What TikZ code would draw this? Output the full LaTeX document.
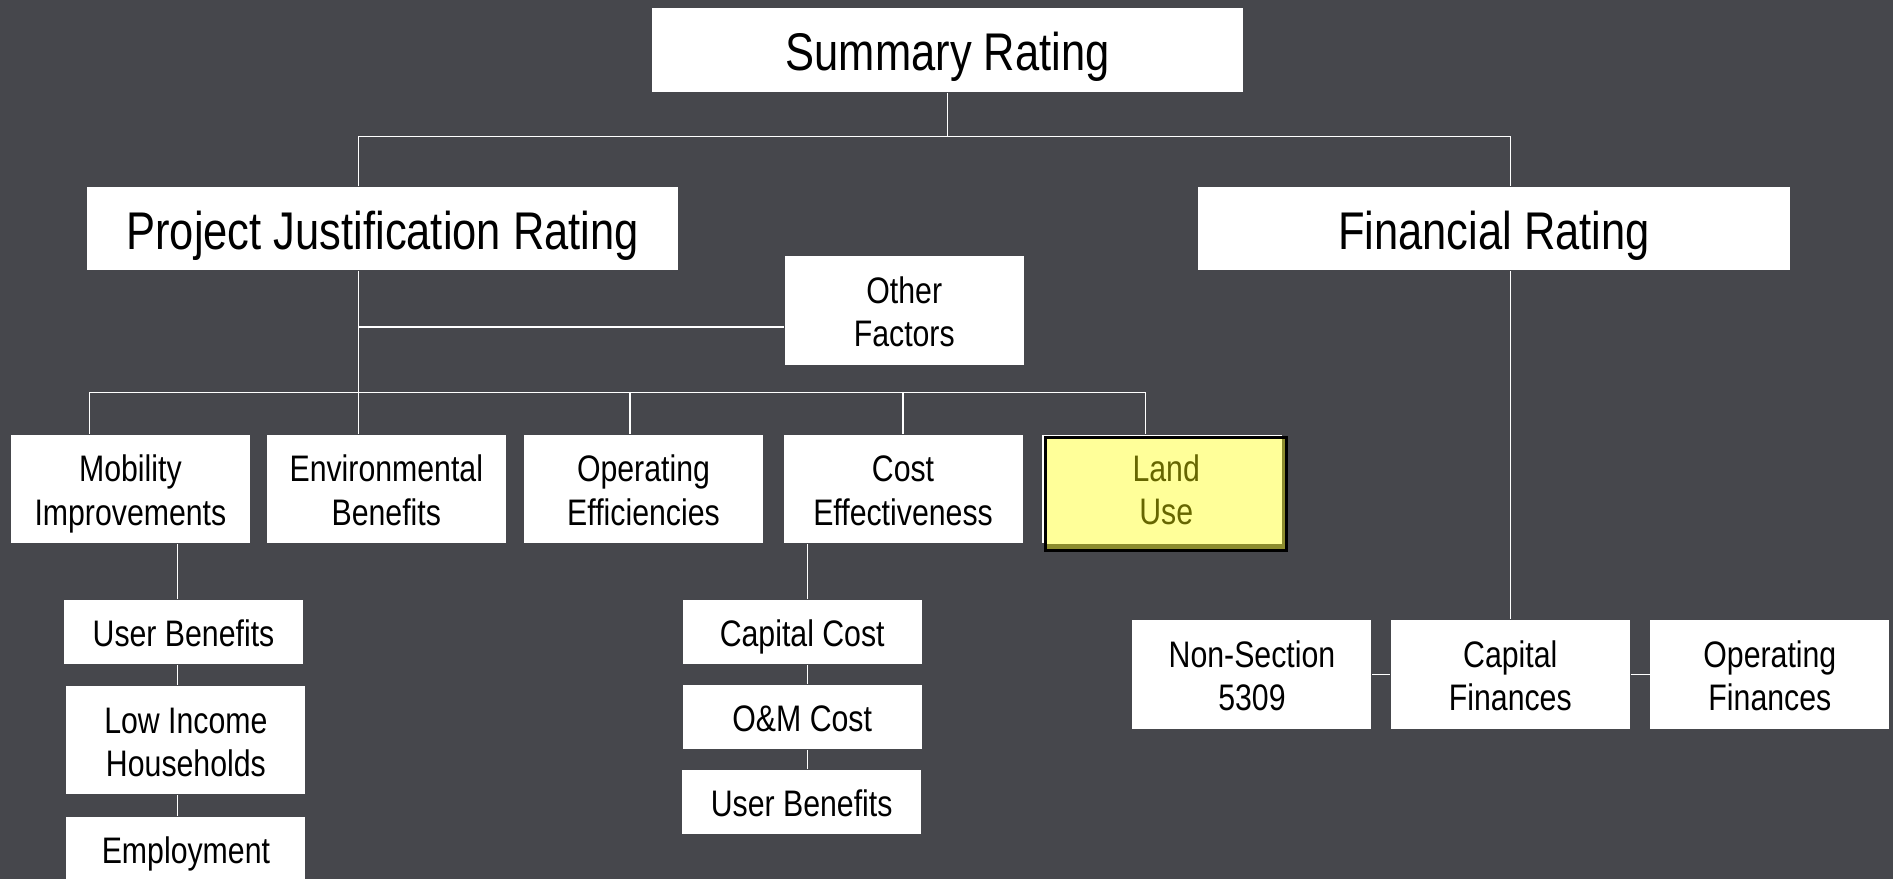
\documentclass[tikz,border=0pt]{standalone}
\usepackage{fontspec}
\setmainfont{Liberation Sans}[FakeStretch=0.82]
\usetikzlibrary{calc}

\definecolor{slate}{RGB}{70,71,76}
\definecolor{landfill}{RGB}{255,255,153}
\definecolor{landshade}{RGB}{140,140,46}
\definecolor{landtext}{RGB}{102,102,0}

\begin{document}
\begin{tikzpicture}[x=0.1mm, y=-0.1mm,
	plain/.style={fill=white, inner sep=0pt, align=center, font=\fontsize{8.7}{10.2}\selectfont, minimum width=19.8mm, minimum height=9mm},
	box/.style={plain, text height=19pt, text depth=1.9pt},
	onebox/.style={plain, minimum height=5.3mm, text height=8.8pt, text depth=1.9pt},
	bigbox/.style={plain, minimum width=49mm, minimum height=6.9mm, font=\fontsize{12.5}{15}\selectfont, text height=12.6pt, text depth=2.75pt},
	landbox/.style={plain, draw=black, line width=0.7pt, fill=landshade, minimum width=20mm, minimum height=9.4mm, text=landtext,
		text height=16.5pt, text depth=1.9pt,
		path picture={\fill[landfill] (path picture bounding box.north west) rectangle ([shift={(-0.45mm,0.5mm)}]path picture bounding box.south east);}},
	link/.style={draw=white, line width=0.35pt}
]

% Background
\fill[slate] (0,0) rectangle (1568,728);
\useasboundingbox (0,0) rectangle (1568,728);

%Coordinates
\coordinate (top) at (0,113);
\coordinate (othy) at (0,271);
\coordinate (mid) at (0,325);

\coordinate (pjrx) at (297,0);
\coordinate (finx) at (1251,0);
\coordinate (mobd) at (74,0);
\coordinate (oped) at (522,0);
\coordinate (lndd) at (949,0);
\coordinate (mobx) at (147,0);
\coordinate (cstx) at (669,0);

% Nodes
\node[bigbox] (sum) at (785,41.5) {Summary Rating};
\node[bigbox] (pjr) at (317,189.5) {Project Justification Rating};
\node[bigbox, minimum width=49.1mm] (fin) at (1237.5,189.5) {Financial Rating};
\node[box] (oth) at (749,257) {Other\\Factors};

\node[box] (mob) at (108,405) {Mobility\\Improvements};
\node[box] (env) at (320,405) {Environmental\\Benefits};
\node[box] (ope) at (533,405) {Operating\\Efficiencies};
\node[box] (cst) at (748,405) {Cost\\Effectiveness};
\node[plain, minimum width=19.9mm] (lnd) at (962.5,405) {};
\node[landbox] (use) at (966,409) {Land\\Use};

\node[onebox] (usr) at (152,523.5) {User Benefits};
\node[box] (low) at (154,613) {Low Income\\Households};
\node[onebox] (emp) at (154,703.5) {Employment};

\node[onebox] (cap) at (664.5,523.5) {Capital Cost};
\node[onebox] (om) at (664.5,594) {O\&M Cost};
\node[onebox] (usr2) at (664,664.5) {User Benefits};

\node[box] (non) at (1037,558.5) {Non-Section\\5309};
\node[box] (cfi) at (1251,558.5) {Capital\\Finances};
\node[box] (ofi) at (1466,558.5) {Operating\\Finances};

% Paths

\draw[link] (sum.south) -- (sum.south |- top);
\draw[link] (pjr.north -| pjrx) -- (pjrx |- top) -- (finx |- top) -- (fin.north -| finx);

\draw[link] (pjr.south -| pjrx) -- (env.north -| pjrx);
\draw[link] (pjrx |- othy) -- (oth.west |- othy);
\draw[link] (mob.north -| mobd) -- (mobd |- mid) -- (lndd |- mid) -- (lnd.north -| lndd);
\draw[link] (ope.north -| oped) -- (oped |- mid);
\draw[link] (cst.north) -- (cst.north |- mid);

% mobility column
\draw[link] (mob.south -| mobx) -- (usr.north -| mobx)
	(usr.south -| mobx) -- (low.north -| mobx)
	(low.south -| mobx) -- (emp.north -| mobx);

% cost column
\draw[link] (cst.south -| cstx) -- (cap.north -| cstx)
	(cap.south -| cstx) -- (om.north -| cstx)
	(om.south -| cstx) -- (usr2.north -| cstx);

% financial
\draw[link] (fin.south -| finx) -- (cfi.north -| finx);
\draw[link] (non.east) -- (cfi.west);
\draw[link] (cfi.east) -- (ofi.west);

\end{tikzpicture}
\end{document}
